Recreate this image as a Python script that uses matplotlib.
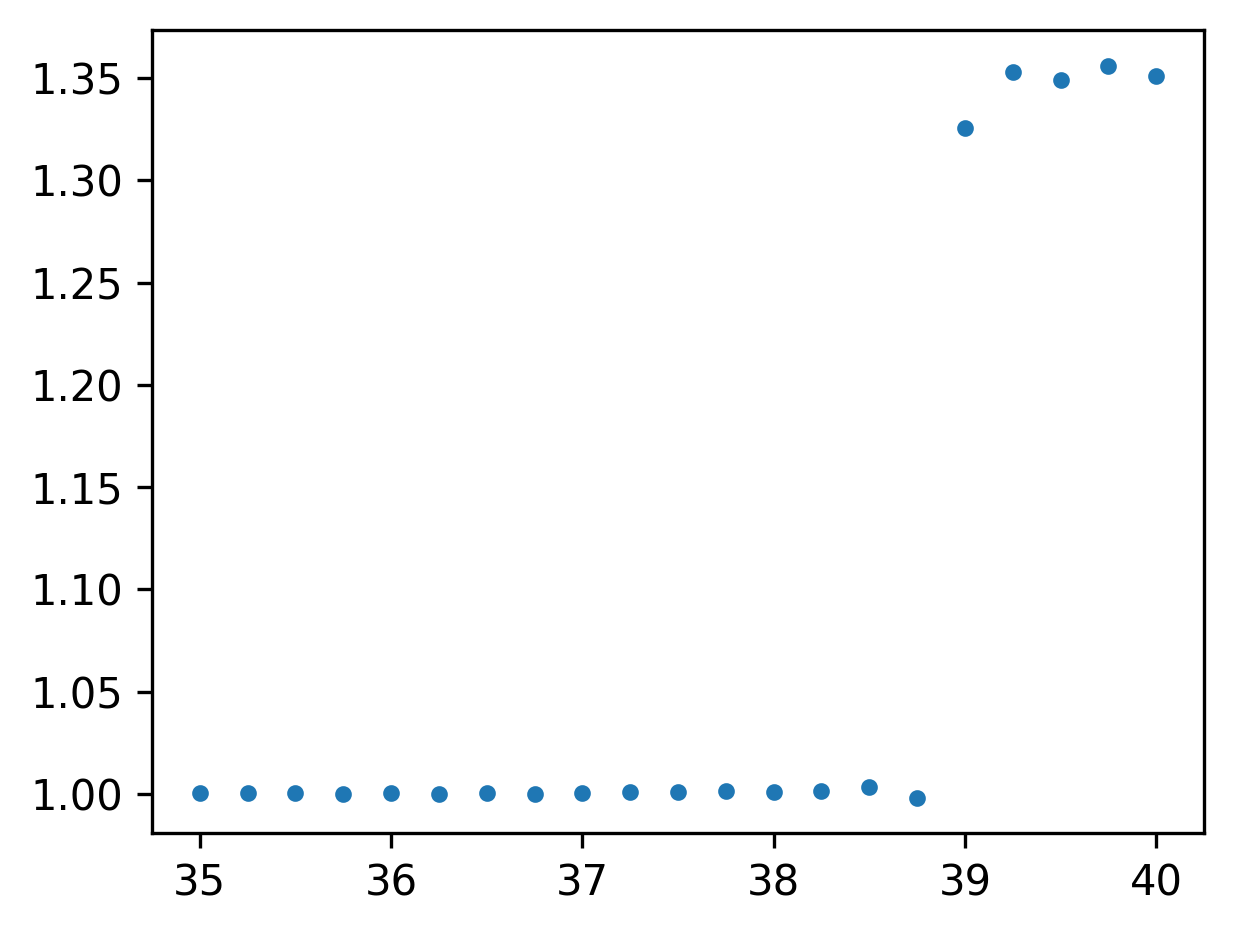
import numpy as np
import matplotlib
matplotlib.use('Agg')
import matplotlib.pyplot as plt

# x positions and measured ratios
x_vals = [35.0, 35.25, 35.5, 35.75, 36.0, 36.25, 36.5, 36.75, 37.0, 37.25,
          37.5, 37.75, 38.0, 38.25, 38.5, 38.75, 39.0, 39.25, 39.5, 39.75, 40.0]
y_vals = [1.0003, 1.0003, 1.0003, 1.0000, 1.0003, 1.0000, 1.0003, 1.0000, 1.0003, 1.0008,
          1.0008, 1.0012, 1.0008, 1.0012, 1.0033, 0.9979, 1.3256, 1.3530, 1.3492, 1.3559, 1.3512]

fig = plt.figure(figsize=(1234 / 300, 934 / 300), dpi=300)
ax = fig.add_axes([152 / 1234, 1 - 833 / 934, (1204 - 152) / 1234, (833 - 30) / 934])
ax.plot(x_vals, y_vals, '.', color='#1f77b4')
ax.set_ylim(0.9809, 1.3735)

fig.savefig('out.png', dpi=300)
